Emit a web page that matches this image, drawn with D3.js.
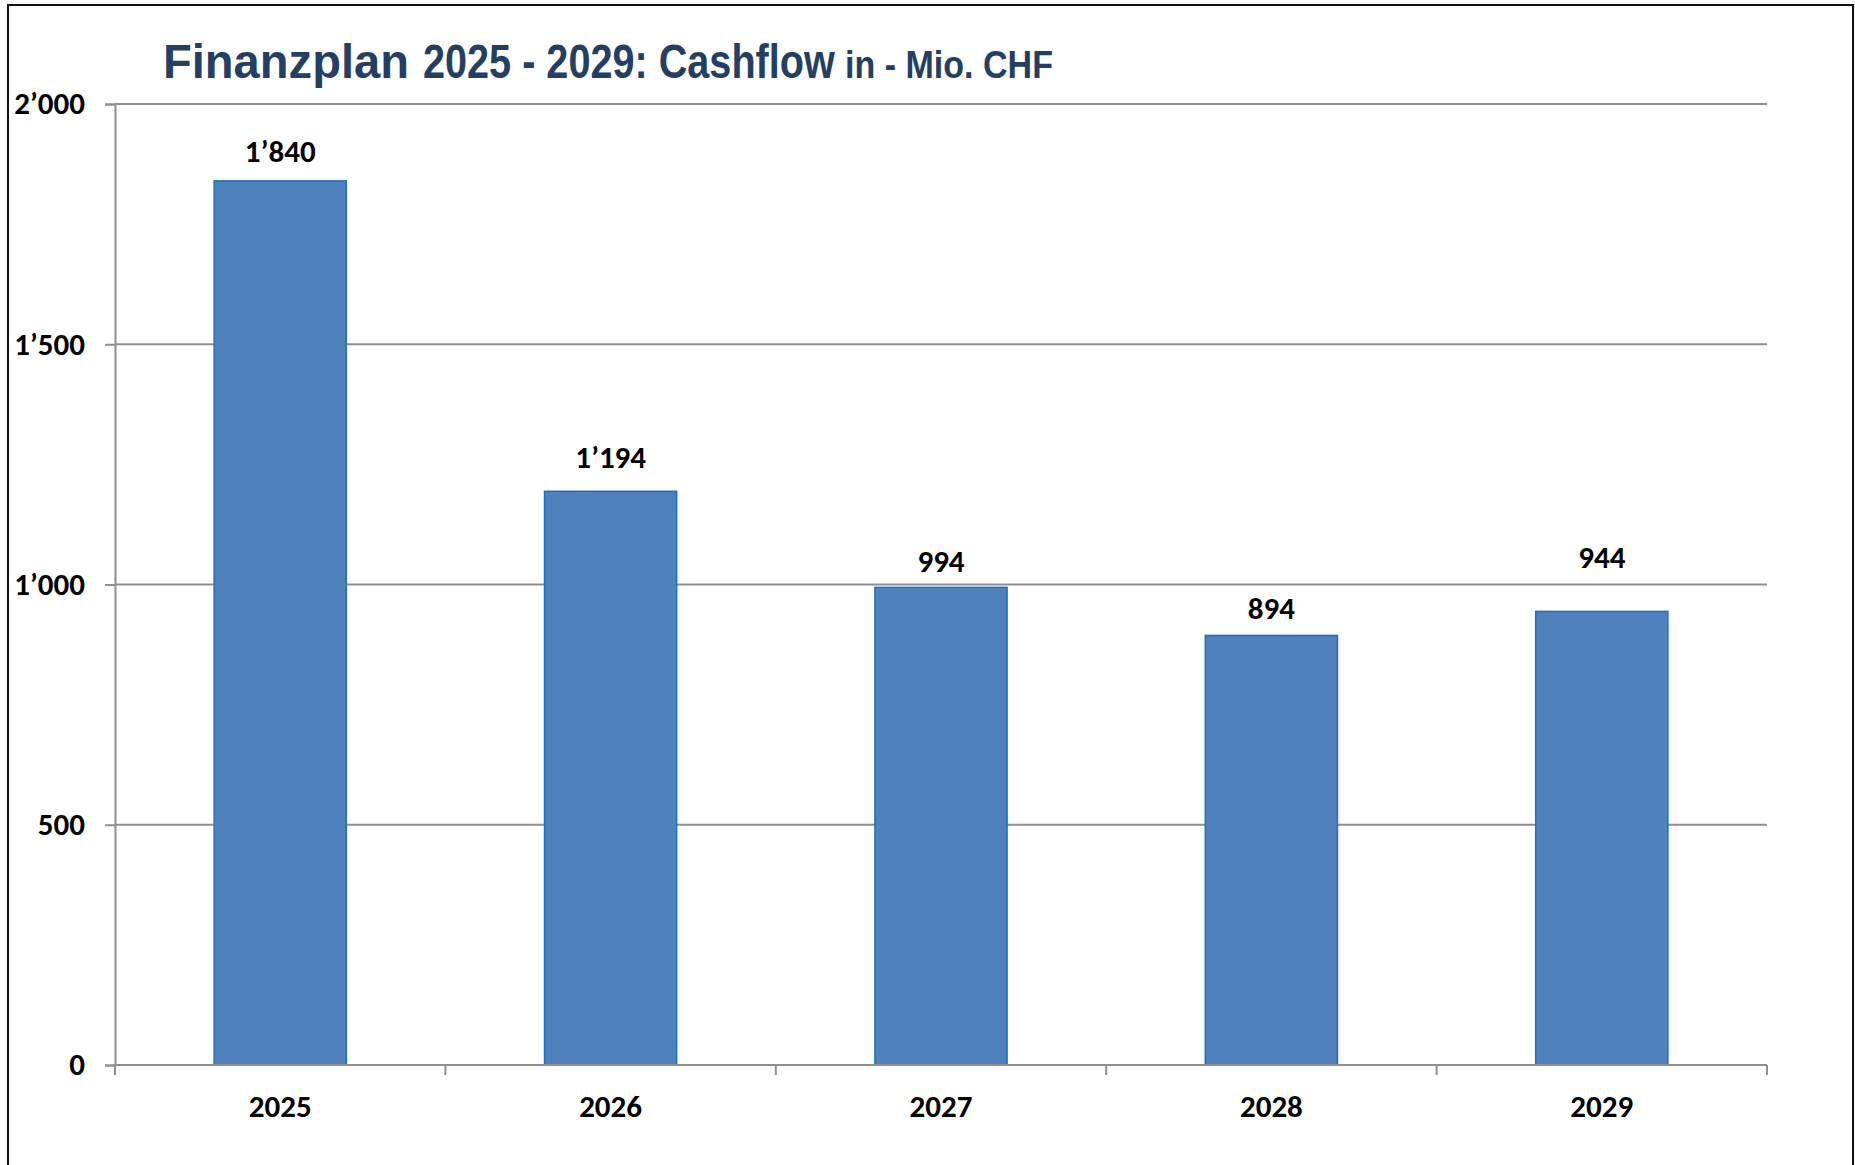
<!DOCTYPE html>
<html>
<head>
<meta charset="utf-8">
<script src="https://cdn.jsdelivr.net/npm/d3@7"></script>
<style>
  html, body { margin: 0; padding: 0; background: #fff; }
  svg { display: block; }
</style>
</head>
<body>
<div id="chart"></div>
<script>
// Finanzplan 2025 - 2029: Cashflow (Mio. CHF)

const years = ["2025", "2026", "2027", "2028", "2029"];
const cashflow = [1840, 1194, 994, 894, 944];
const yTicks = [0, 500, 1000, 1500, 2000];

// how far each value label sits above its bar (px)
const labelLift = [19, 23, 15, 16, 43];

const width = 1855;
const height = 1165;
const margin = { top: 104, right: 88, bottom: 100, left: 115 };

const svg = d3.select("#chart")
  .append("svg")
  .attr("width", width)
  .attr("height", height);

// outer frame
svg.append("rect")
  .attr("x", 8)
  .attr("y", 5)
  .attr("width", 1845)
  .attr("height", 1200)
  .attr("fill", "none")
  .attr("stroke", "#111")
  .attr("stroke-width", 2);

const x = d3.scaleBand()
  .domain(years)
  .range([margin.left, width - margin.right])
  .paddingInner(0.6)
  .paddingOuter(0.3);

const y = d3.scaleLinear()
  .domain([0, 2000])
  .range([height - margin.bottom, margin.top]);

const fmt = v => d3.format(",")(v).replace(/,/g, "\u2019");

const labelFont = "Carlito, Lato, 'Open Sans', sans-serif";
const labelSize = "31px";
const gridColor = "#8f8f8f";

// gridlines
svg.append("g")
  .selectAll("line")
  .data(yTicks.filter(t => t > 0))
  .join("line")
  .attr("x1", margin.left)
  .attr("x2", width - margin.right)
  .attr("y1", d => y(d))
  .attr("y2", d => y(d))
  .attr("stroke", gridColor)
  .attr("stroke-width", 2);

// y axis
const yAxis = svg.append("g")
  .attr("transform", `translate(${margin.left},0)`)
  .call(d3.axisLeft(y).tickValues(yTicks).tickSize(10).tickPadding(20).tickFormat(fmt));
yAxis.select(".domain").attr("stroke", gridColor).attr("stroke-width", 2);
yAxis.selectAll(".tick line").attr("stroke", gridColor).attr("stroke-width", 2);
yAxis.selectAll(".tick text")
  .attr("fill", "#000")
  .style("font-family", labelFont)
  .style("font-weight", "bold")
  .style("font-size", labelSize);

// bars
svg.append("g")
  .selectAll("rect")
  .data(cashflow)
  .join("rect")
  .attr("x", (d, i) => x(years[i]))
  .attr("y", d => y(d))
  .attr("width", x.bandwidth())
  .attr("height", d => y(0) - y(d))
  .attr("fill", "#4f81bd")
  .attr("stroke", "#1a72c4")
  .attr("stroke-width", 1.5);

// x axis with ticks at category boundaries
const xAxisG = svg.append("g")
  .attr("transform", `translate(0,${y(0)})`);
xAxisG.append("line")
  .attr("x1", margin.left)
  .attr("x2", width - margin.right)
  .attr("stroke", gridColor)
  .attr("stroke-width", 2);
const step = x.step();
const edges = d3.range(years.length + 1).map(i => x(years[0]) - step * 0.3 + i * step);
xAxisG.selectAll(".xtick")
  .data(edges)
  .join("line")
  .attr("class", "xtick")
  .attr("x1", d => d)
  .attr("x2", d => d)
  .attr("y1", 0)
  .attr("y2", 10)
  .attr("stroke", gridColor)
  .attr("stroke-width", 2);
xAxisG.selectAll(".xlabel")
  .data(years)
  .join("text")
  .attr("class", "xlabel")
  .attr("x", d => x(d) + x.bandwidth() / 2)
  .attr("y", 52)
  .attr("text-anchor", "middle")
  .style("font-family", labelFont)
  .style("font-weight", "bold")
  .style("font-size", labelSize)
  .text(d => d);

// value labels
svg.append("g")
  .selectAll("text")
  .data(cashflow)
  .join("text")
  .attr("x", (d, i) => x(years[i]) + x.bandwidth() / 2)
  .attr("y", (d, i) => y(d) - labelLift[i])
  .attr("text-anchor", "middle")
  .style("font-family", labelFont)
  .style("font-weight", "bold")
  .style("font-size", labelSize)
  .text(fmt);

// title: squeeze each part horizontally so it looks condensed
const titleColor = "#243f63";
const title = svg.append("g")
  .attr("fill", titleColor)
  .style("font-family", "'Liberation Sans', Arial, sans-serif")
  .style("font-weight", "bold");

function titlePart(str, left, size, targetWidth) {
  const t = title.append("text")
    .attr("x", 0).attr("y", 0)
    .style("font-size", size)
    .text(str);
  const natural = t.node().getComputedTextLength();
  const sx = targetWidth / natural;
  t.attr("transform", `translate(${left},78) scale(${sx},1)`);
}
titlePart("Finanzplan", 163, "48px", 246);
titlePart("2025 - 2029: Cashflow", 423, "48px", 412);
titlePart("in - Mio. CHF", 845, "39px", 208);
</script>
</body>
</html>
